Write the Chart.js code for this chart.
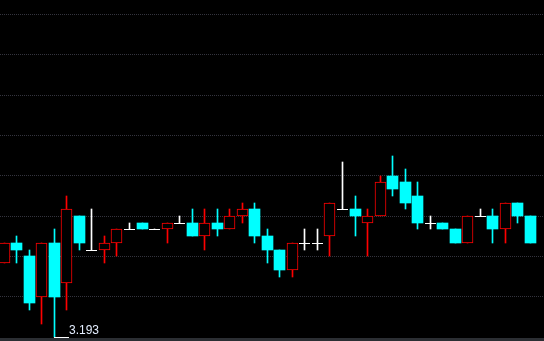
<!DOCTYPE html>
<html><head><meta charset="utf-8">
<script src="https://cdn.jsdelivr.net/npm/chart.js@4/dist/chart.umd.min.js"></script>
<style>html,body{margin:0;padding:0;background:#000;overflow:hidden}canvas{display:block}</style>
</head><body>
<canvas id="c" width="544" height="341"></canvas>
<script>
// Candle data (one entry per bar, left to right)
const opens  = [3.204,3.207,3.205,3.199,3.207,3.201,3.211,3.206,3.206,3.207,3.209,3.210,3.209,3.209,3.210,3.210,3.208,3.210,3.209,3.211,3.212,3.208,3.206,3.203,3.207,3.207,3.208,3.212,3.212,3.210,3.211,3.217,3.216,3.214,3.210,3.210,3.209,3.207,3.211,3.211,3.209,3.213,3.211];
const highs  = [3.207,3.208,3.206,3.207,3.209,3.214,3.211,3.212,3.208,3.209,3.210,3.210,3.209,3.210,3.211,3.212,3.212,3.212,3.212,3.213,3.213,3.209,3.206,3.207,3.209,3.209,3.213,3.219,3.214,3.212,3.217,3.220,3.218,3.216,3.211,3.210,3.209,3.211,3.212,3.212,3.213,3.213,3.211];
const lows   = [3.204,3.204,3.197,3.195,3.193,3.197,3.206,3.206,3.204,3.205,3.209,3.209,3.209,3.207,3.210,3.208,3.206,3.208,3.209,3.210,3.207,3.204,3.202,3.202,3.206,3.206,3.205,3.212,3.208,3.205,3.211,3.214,3.212,3.209,3.209,3.209,3.207,3.207,3.211,3.207,3.207,3.210,3.207];
const closes = [3.207,3.206,3.198,3.207,3.199,3.212,3.207,3.206,3.207,3.209,3.209,3.209,3.209,3.210,3.210,3.208,3.210,3.209,3.211,3.212,3.208,3.206,3.203,3.207,3.207,3.207,3.213,3.212,3.211,3.211,3.216,3.215,3.213,3.210,3.210,3.209,3.207,3.211,3.211,3.209,3.213,3.211,3.207];
// Horizontal dotted grid levels
const gridTicks = [3.199,3.205,3.211,3.217,3.223,3.229,3.235,3.241];

const UP = '#ff0000', DOWN = '#00ffff', FLAT = '#ffffff';
const idx = opens.map((_, i) => i);
const colorOf = i => closes[i] > opens[i] ? UP : (closes[i] < opens[i] ? DOWN : FLAT);

const bodyIdx = idx.filter(i => closes[i] !== opens[i]);
const dojiIdx = idx.filter(i => closes[i] === opens[i]);

const wickData = idx.map(i => ({x: i, y: [lows[i], highs[i]]}));
const bodyData = bodyIdx.map(i => ({x: i, y: [opens[i], closes[i]]}));
const dojiData = dojiIdx.map(i => ({x: i, y: closes[i]}));

const bgPlugin = {
  id: 'bg',
  beforeDraw(chart) {
    const {ctx, width, height, chartArea} = chart;
    ctx.save();
    ctx.fillStyle = '#000000';
    ctx.fillRect(0, 0, width, height);
    ctx.fillStyle = '#2b2e33';
    ctx.fillRect(0, chartArea.bottom, width, height - chartArea.bottom);
    ctx.restore();
  }
};

const snapPlugin = {
  id: 'snap',
  beforeDatasetsDraw(chart) {
    chart.data.datasets.forEach((ds, di) => {
      const meta = chart.getDatasetMeta(di);
      meta.data.forEach(el => {
        el.x = Math.floor(el.x) + 0.5;
        if (meta.type === 'bar') {
          el.y = Math.round(el.y);
          el.base = Math.round(el.base);
        } else {
          el.y = Math.round(el.y - 1e-6) + 0.5;
        }
      });
    });
  }
};

const lowLabelPlugin = {
  id: 'lowLabel',
  afterDatasetsDraw(chart) {
    const {ctx, scales} = chart;
    let mi = 0;
    lows.forEach((v, i) => { if (v < lows[mi]) mi = i; });
    const x = Math.floor(scales.x.getPixelForValue(mi));
    const y = Math.round(scales.y.getPixelForValue(lows[mi]));
    ctx.save();
    ctx.fillStyle = '#ffffff';
    ctx.fillRect(x, y, 15, 1);
    ctx.fillStyle = '#e4eeff';
    ctx.font = '12px "Liberation Sans", Arial, sans-serif';
    ctx.textBaseline = 'alphabetic';
    ctx.textAlign = 'left';
    ctx.fillText(lows[mi].toFixed(3), x + 15, y - 3);
    ctx.restore();
  }
};

new Chart(document.getElementById('c'), {
  type: 'bar',
  data: {
    datasets: [
      {
        label: 'wick', data: wickData, order: 3,
        backgroundColor: ctx => colorOf(ctx.raw.x),
        borderWidth: 0, barThickness: 1, grouped: false
      },
      {
        label: 'body', data: bodyData, order: 2,
        backgroundColor: ctx => colorOf(ctx.raw.x) === UP ? '#000000' : DOWN,
        borderColor: ctx => colorOf(ctx.raw.x),
        borderWidth: ctx => colorOf(ctx.raw.x) === UP ? 1 : 0,
        borderSkipped: false, barThickness: 11, grouped: false
      },
      {
        type: 'scatter', label: 'doji', data: dojiData, order: 1,
        pointStyle: 'line', pointRadius: 5.5, pointHoverRadius: 5.5, pointHitRadius: 0,
        borderColor: FLAT, backgroundColor: FLAT, borderWidth: 1, clip: false
      }
    ]
  },
  options: {
    responsive: false,
    animation: false,
    events: [],
    devicePixelRatio: 1,
    layout: {autoPadding: false, padding: {left: 0, right: 0, top: 0, bottom: 3}},
    plugins: {legend: {display: false}, tooltip: {enabled: false}},
    scales: {
      x: {
        type: 'linear', display: false, offset: false,
        min: -0.3352, max: 43.081,
        grid: {display: false, offset: false}
      },
      y: {
        type: 'linear', display: true,
        min: 3.19286, max: 3.24313,
        afterBuildTicks: s => { s.ticks = gridTicks.map(v => ({value: v})); },
        ticks: {display: false},
        grid: {color: '#34343e', lineWidth: 1, drawTicks: false},
        border: {display: false, dash: [1, 1]}
      }
    }
  },
  plugins: [bgPlugin, snapPlugin, lowLabelPlugin]
});
</script>
</body></html>
